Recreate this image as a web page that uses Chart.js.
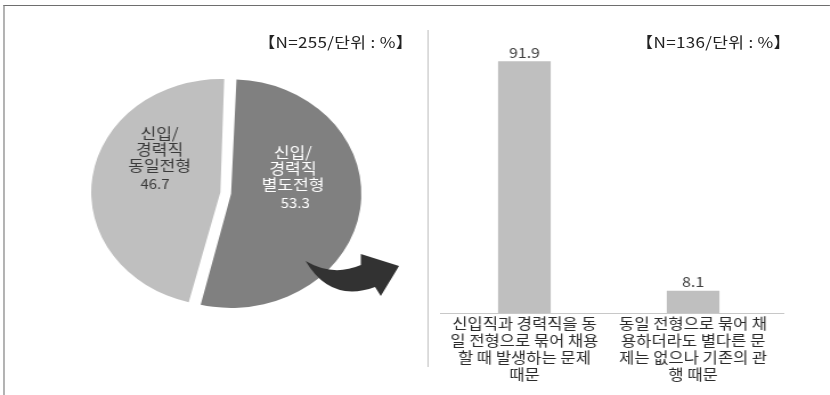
<!DOCTYPE html>
<html>
<head>
<meta charset="utf-8">
<script src="https://cdn.jsdelivr.net/npm/chart.js@4/dist/chart.umd.min.js"></script>
<style>
  html, body { margin: 0; padding: 0; background: #fff; overflow: hidden; }
  /* the whole figure is laid out narrow and then widened */
  #wrap { position: relative; width: 728px; height: 395px; transform: scaleX(1.14); transform-origin: 0 0; font-family: "Noto Sans CJK KR", sans-serif; }
  .frameTop { position: absolute; left: 2.6px; top: 5px; width: 725.4px; height: 1px; background: #6e6e6e; }
  .frameLeft { position: absolute; left: 2.6px; top: 5px; width: 1.8px; height: 390px; background: #7a7a7a; }
  .sep { position: absolute; left: 375.4px; top: 30px; width: 1px; height: 337px; background: #c4c4c4; }
  .note { position: absolute; font-size: 15px; letter-spacing: 0.25px; color: #222; line-height: 16px; white-space: nowrap; }
  #pie { position: absolute; left: 68px; top: 62.5px; width: 300px; height: 260px; }
  #bar { position: absolute; left: 386px; top: 39px; width: 304px; height: 351px; }
</style>
</head>
<body>
<div id="wrap">
  <div class="frameTop"></div>
  <div class="frameLeft"></div>
  <div class="sep"></div>
  <div class="note" style="left:226.5px; top:34px;">【N=255/단위 : %】</div>
  <div class="note" style="left:558px; top:34px;">【N=136/단위 : %】</div>
  <canvas id="pie" width="300" height="260"></canvas>
  <canvas id="bar" width="304" height="351"></canvas>
</div>
<script>
// 채용 방식 (N=255)
const pieLabels = [['신입/', '경력직', '별도전형'], ['신입/', '경력직', '동일전형']];
const pieValues = [53.3, 46.7];
const pieColors = ['#808080', '#bfbfbf'];

// 동일전형 운영 이유 (N=136)
const barLabels = [
  ['신입직과 경력직을 동', '일 전형으로 묶어 채용', '할 때 발생하는 문제', '때문'],
  ['동일 전형으로 묶어 채', '용하더라도 별다른 문', '제는 없으나 기존의 관', '행 때문']
];
const barValues = [91.9, 8.1];

const KR = '"Noto Sans CJK KR", sans-serif';

// slice labels + the curved arrow pointing to the bar chart
const pieTextPlugin = {
  id: 'pieText',
  afterDraw(chart) {
    const ctx = chart.ctx;
    const a = chart.chartArea;
    const cx = (a.left + a.right) / 2, cy = (a.top + a.bottom) / 2;
    const spots = [
      { x: cx + 59, y: cy - 41, nx: cx + 61, color: '#ffffff' },
      { x: cx - 58, y: cy - 60, nx: cx - 62, color: '#3a3a3a' }
    ];
    ctx.save();
    ctx.textAlign = 'center';
    ctx.textBaseline = 'middle';
    pieValues.forEach((v, i) => {
      const s = spots[i];
      ctx.fillStyle = s.color;
      ctx.font = '15px ' + KR;
      pieLabels[i].forEach((line, k) => ctx.fillText(line, s.x, s.y + k * 16));
      ctx.font = '13px ' + KR;
      ctx.fillText(v.toFixed(1), s.nx, s.y + pieLabels[i].length * 16 + 3);
    });

    // arrow
    ctx.fillStyle = '#323232';
    ctx.beginPath();
    ctx.moveTo(cx + 70, cy + 68);
    ctx.quadraticCurveTo(cx + 94, cy + 84, cx + 118.5, cy + 72);
    ctx.lineTo(cx + 118.5, cy + 61);
    ctx.lineTo(cx + 152, cy + 73);
    ctx.lineTo(cx + 136, cy + 103);
    ctx.lineTo(cx + 131, cy + 94);
    ctx.quadraticCurveTo(cx + 92, cy + 110, cx + 70, cy + 68);
    ctx.closePath();
    ctx.fill();
    ctx.restore();
  }
};

new Chart(document.getElementById('pie'), {
  type: 'pie',
  data: {
    labels: pieLabels.map(l => l.join('')),
    datasets: [{
      data: pieValues,
      backgroundColor: pieColors,
      borderWidth: 0,
      offset: 19,
      radius: 109.5
    }]
  },
  options: {
    responsive: false,
    animation: false,
    rotation: 2,
    layout: { padding: { right: 40 } },
    plugins: { legend: { display: false }, tooltip: { enabled: false } }
  },
  plugins: [pieTextPlugin]
});

// value labels above bars, baseline runs a little past the last bar slot
const barValuePlugin = {
  id: 'barValues',
  afterDatasetsDraw(chart) {
    const ctx = chart.ctx;
    const a = chart.chartArea;
    ctx.save();
    ctx.strokeStyle = '#c8c8c8';
    ctx.lineWidth = 1;
    ctx.beginPath();
    ctx.moveTo(a.right - 1, a.bottom + 0.5);
    ctx.lineTo(a.right + 6, a.bottom + 0.5);
    ctx.stroke();
    ctx.font = '14px ' + KR;
    ctx.fillStyle = '#404040';
    ctx.textAlign = 'center';
    ctx.textBaseline = 'bottom';
    chart.getDatasetMeta(0).data.forEach((bar, i) => {
      ctx.fillText(barValues[i].toFixed(1), bar.x, bar.y - 2);
    });
    ctx.restore();
  }
};

new Chart(document.getElementById('bar'), {
  type: 'bar',
  data: {
    labels: barLabels,
    datasets: [{
      data: barValues,
      backgroundColor: '#bfbfbf',
      borderWidth: 0,
      barPercentage: 0.312,
      categoryPercentage: 1
    }]
  },
  options: {
    responsive: false,
    animation: false,
    layout: { padding: { right: 8 } },
    plugins: { legend: { display: false }, tooltip: { enabled: false } },
    scales: {
      x: {
        grid: { display: false, drawTicks: false },
        border: { display: true, color: '#c8c8c8', width: 1 },
        ticks: { color: '#2a2a2a', padding: 2, maxRotation: 0, autoSkip: false, font: { family: KR, size: 14.5, lineHeight: 1.17 } },
        afterFit(scale) { scale.height = 77; }
      },
      y: { display: false, min: 0, max: 100 }
    }
  },
  plugins: [barValuePlugin]
});
</script>
</body>
</html>
